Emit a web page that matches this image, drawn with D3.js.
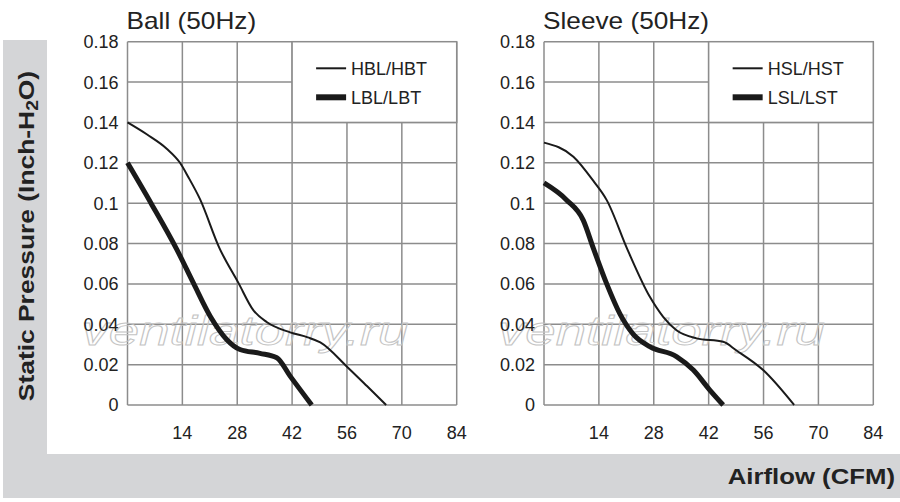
<!DOCTYPE html>
<html>
<head>
<meta charset="utf-8">
<script src="https://cdn.jsdelivr.net/npm/d3@7"></script>
<style>
  html, body { margin: 0; padding: 0; background: #fff; }
  svg { display: block; }
</style>
</head>
<body>
<div id="chart"></div>
<script>
// Fan P-Q curves, ball vs sleeve bearing (50Hz)
const xTicks = [0, 14, 28, 42, 56, 70, 84];
const yTicks = [0, 0.02, 0.04, 0.06, 0.08, 0.1, 0.12, 0.14, 0.16, 0.18];
const xTickLabels = ["", "14", "28", "42", "56", "70", "84"];
const yTickLabels = ["0", "0.02", "0.04", "0.06", "0.08", "0.1", "0.12", "0.14", "0.16", "0.18"];

const panelTitles = ["Ball (50Hz)", "Sleeve (50Hz)"];
const legendNames = [["HBL/HBT", "LBL/LBT"], ["HSL/HST", "LSL/LST"]];

// [airflow CFM, static pressure inch-H2O]
const ballHigh = [[0, 0.14], [5, 0.134], [10, 0.127], [13.4, 0.12], [15.5, 0.113], [18.5, 0.102],
    [23.4, 0.078], [28.3, 0.0605], [32.1, 0.047], [35.6, 0.041], [41.5, 0.036], [46, 0.0335],
    [49.2, 0.031], [56, 0.019], [61.1, 0.0094], [66, 0]];
const ballLow = [[0, 0.12], [6, 0.1], [12.6, 0.077], [16.8, 0.0605], [21.1, 0.044], [25.3, 0.0325],
    [28.7, 0.0275], [33.8, 0.0256], [38.1, 0.0234], [41.5, 0.0143], [47, 0]];
const sleeveHigh = [[0, 0.13], [7.5, 0.123], [12.6, 0.111], [16, 0.1015], [21.3, 0.077], [27, 0.0536],
    [30.4, 0.0437], [33.8, 0.037], [38.9, 0.033], [45.7, 0.0313], [49.1, 0.027], [55.9, 0.0173], [63.8, 0]];
const sleeveLow = [[0, 0.11], [5.8, 0.1015], [10, 0.0916], [12.6, 0.0776], [16, 0.06], [19.4, 0.045],
    [22.8, 0.035], [27, 0.0289], [33.8, 0.024], [38.1, 0.0173], [42.3, 0.0074], [45.7, 0]];

const panelSeries = [[ballHigh, ballLow], [sleeveHigh, sleeveLow]];

const W = 900, H = 502;
const gridColor = "#8c8c8c";
const inkColor = "#1a1a1a";
const font = "'Liberation Sans', Arial, sans-serif";

const svg = d3.select("#chart")
    .append("svg")
    .attr("width", W)
    .attr("height", H)
    .attr("viewBox", `0 0 ${W} ${H}`);

// the original typeface is a little wider than Arial, so stretch text horizontally
function wideText(parent, x, y, sx) {
    return parent.append("text")
        .attr("transform", `translate(${x},${y}) scale(${sx},1)`)
        .attr("font-family", font)
        .attr("fill", "#222");
}

// Gray frame strips
svg.append("rect").attr("x", 3).attr("y", 40).attr("width", 44).attr("height", 458).attr("fill", "#d4d5d7");
svg.append("rect").attr("x", 3).attr("y", 454).attr("width", 897).attr("height", 44).attr("fill", "#d4d5d7");

// Plot boxes (left, right) in pixels
const panelBoxes = [[127.5, 456.7], [544, 873.3]];
const plotTop = 41.7, plotBottom = 405;

panelBoxes.forEach(function(box, i) {
    const xScale = d3.scaleLinear().domain([0, 84]).range(box);
    const yScale = d3.scaleLinear().domain([0, 0.18]).range([plotBottom, plotTop]);
    const g = svg.append("g");

    // Grid lines
    g.selectAll(".vgrid")
        .data(xTicks)
        .enter()
        .append("line")
        .attr("x1", d => xScale(d)).attr("x2", d => xScale(d))
        .attr("y1", plotTop).attr("y2", plotBottom)
        .attr("stroke", gridColor).attr("stroke-width", 1.5);

    g.selectAll(".hgrid")
        .data(yTicks)
        .enter()
        .append("line")
        .attr("x1", box[0]).attr("x2", box[1])
        .attr("y1", d => yScale(d)).attr("y2", d => yScale(d))
        .attr("stroke", gridColor).attr("stroke-width", 1.5);

    // Legend box covers the grid in the top-right corner
    g.append("rect")
        .attr("x", xScale(42))
        .attr("y", yScale(0.18))
        .attr("width", xScale(84) - xScale(42))
        .attr("height", yScale(0.14) - yScale(0.18))
        .attr("fill", "#fff")
        .attr("stroke", gridColor)
        .attr("stroke-width", 1.5);

    // Watermark
    g.append("text")
        .attr("x", box[0] - 46)
        .attr("y", 345)
        .attr("textLength", 327)
        .attr("lengthAdjust", "spacingAndGlyphs")
        .attr("font-size", "40px")
        .attr("font-style", "italic")
        .attr("font-family", font)
        .attr("fill", "none")
        .attr("stroke", "#c4c4c4")
        .attr("stroke-width", 0.9)
        .text("ventilatorry.ru");

    // Tick labels
    yTicks.forEach(function(d, j) {
        wideText(g, box[0] - 9, yScale(d), 1.0)
            .attr("dy", "0.36em")
            .attr("text-anchor", "end")
            .attr("font-size", "18px")
            .text(yTickLabels[j]);
    });

    xTicks.forEach(function(d, j) {
        wideText(g, xScale(d), 439, 1.0)
            .attr("text-anchor", "middle")
            .attr("font-size", "18px")
            .text(xTickLabels[j]);
    });

    // Curves
    const line = d3.line()
        .x(d => xScale(d[0]))
        .y(d => yScale(d[1]))
        .curve(d3.curveMonotoneX);

    const widths = [2, 5];
    panelSeries[i].forEach(function(series, k) {
        g.append("path")
            .datum(series)
            .attr("d", line)
            .attr("fill", "none")
            .attr("stroke", inkColor)
            .attr("stroke-width", widths[k])
            .attr("stroke-linejoin", "round");
    });

    // Legend entries
    const legendY = [68.3, 97.3];
    legendNames[i].forEach(function(name, k) {
        g.append("line")
            .attr("x1", xScale(42) + 24).attr("x2", xScale(42) + 54)
            .attr("y1", legendY[k]).attr("y2", legendY[k])
            .attr("stroke", inkColor)
            .attr("stroke-width", widths[k] + (k ? 1 : 0));
        g.append("text")
            .attr("x", xScale(42) + 59)
            .attr("y", legendY[k])
            .attr("dy", "0.36em")
            .attr("font-size", "18px")
            .attr("font-family", font)
            .attr("fill", "#222")
            .text(name);
    });

    // Panel title
    wideText(svg, box[0] - 1, 29, 1.14)
        .attr("font-size", "23px")
        .text(panelTitles[i]);
});

// Axis titles
const yTitle = svg.append("text")
    .attr("transform", "translate(34,236) rotate(-90) scale(1.2,1)")
    .attr("text-anchor", "middle")
    .attr("font-size", "22px")
    .attr("font-weight", "bold")
    .attr("font-family", font)
    .attr("fill", "#222");
yTitle.append("tspan").text("Static Pressure (Inch-H");
yTitle.append("tspan").attr("font-size", "16px").attr("dy", "4").text("2");
yTitle.append("tspan").attr("dy", "-4").text("O)");

wideText(svg, 895, 484, 1.17)
    .attr("text-anchor", "end")
    .attr("font-size", "22px")
    .attr("font-weight", "bold")
    .text("Airflow (CFM)");
</script>
</body>
</html>
